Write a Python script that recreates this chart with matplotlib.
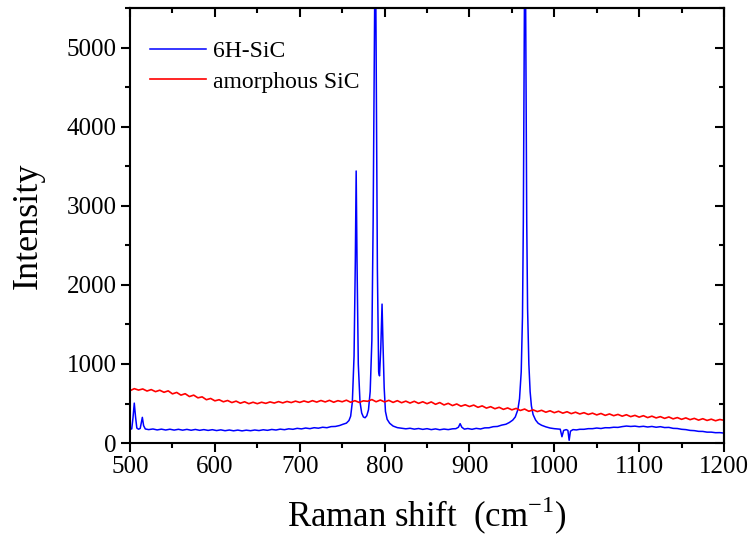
"""Raman spectra of 6H-SiC and amorphous SiC."""

import numpy as np
import matplotlib
matplotlib.use("Agg")
import matplotlib.pyplot as plt
from matplotlib.ticker import MultipleLocator

# 6H-SiC spectrum (Raman shift, intensity)
sic6h_shift = [
    500, 502, 503.5, 505, 506.5, 508, 510, 512, 513, 514.5, 516, 518,
    522, 527, 532, 537, 542, 547, 552, 557, 562, 567, 572, 577, 582, 587,
    592, 597, 602, 607, 612, 617, 622, 627, 632, 637, 642, 647, 652, 657,
    662, 667, 672, 677, 682, 687, 692, 697, 702, 707, 712, 717, 722, 727,
    732, 737, 742, 747, 751, 755, 758, 760, 762, 764, 765.5, 766.5, 767.5,
    769, 771, 773, 775, 777, 779, 781, 783, 785, 786.5, 788, 789, 790,
    791.5, 793, 794, 795.5, 797, 798, 799.5, 801, 803, 806, 810, 815, 820,
    825, 830, 835, 840, 845, 850, 855, 860, 865, 870, 875, 880, 884, 887,
    889, 891, 894, 898, 903, 908, 913, 918, 923, 928, 933, 938, 943, 947,
    951, 954, 957, 959, 961, 962.5, 963.5, 964.5, 965.5, 966.5, 967.5,
    968.5, 970, 971.5, 973, 975, 978, 981, 985, 990, 995, 1000, 1004,
    1007, 1009, 1011, 1014, 1016, 1017.5, 1019, 1022, 1026, 1030, 1035,
    1040, 1045, 1050, 1055, 1060, 1065, 1070, 1075, 1080, 1085, 1090,
    1095, 1100, 1105, 1110, 1115, 1120, 1125, 1130, 1135, 1140, 1145,
    1150, 1155, 1160, 1165, 1170, 1175, 1180, 1185, 1190, 1195, 1200,
]
sic6h_int = [
    172, 180, 320, 505, 330, 190, 175, 185, 240, 325, 220, 178,
    170, 178, 166, 176, 165, 175, 164, 174, 163, 173, 162, 172, 161, 170,
    160, 169, 158, 167, 156, 165, 155, 164, 154, 163, 156, 165, 158, 168,
    161, 172, 165, 176, 169, 180, 174, 186, 179, 190, 182, 194, 188, 200,
    194, 208, 210, 222, 238, 252, 285, 340, 520, 1100, 2300, 3440, 2300,
    1000, 520, 380, 330, 320, 345, 420, 650, 1300, 2800, 5000, 6800, 5000,
    2200, 900, 850, 1200, 1757, 1300, 700, 400, 300, 250, 215, 195, 188,
    180, 187, 176, 184, 173, 182, 170, 179, 168, 177, 170, 180, 182, 200,
    245, 200, 176, 184, 174, 186, 178, 192, 193, 207, 210, 227, 238, 260,
    290, 330, 420, 560, 900, 1600, 2800, 5000, 7000, 5000, 2800,
    1700, 1000, 650, 470, 360, 290, 250, 225, 205, 190, 182, 178,
    175, 80, 160, 170, 160, 35, 150, 170, 166, 174, 174,
    182, 182, 190, 184, 194, 193, 200, 198, 208, 215, 210,
    214, 206, 212, 203, 210, 200, 207, 196, 198, 186, 184,
    174, 170, 160, 157, 148, 147, 138, 138, 131, 132, 126,
]

# amorphous SiC spectrum, sampled every 5 cm-1 from 500 to 1200
asic_shift = np.arange(500, 1201, 5)
asic_int = [
    662, 688, 670, 684, 658, 676, 650, 668, 642, 660,
    622, 640, 606, 624, 588, 606, 572, 584, 548, 564,
    534, 548, 522, 538, 512, 530, 504, 522, 498, 516,
    498, 516, 502, 520, 506, 524, 508, 526, 512, 530,
    514, 532, 516, 536, 518, 538, 520, 540, 516, 536,
    522, 542, 516, 536, 514, 534, 528, 550, 522, 544,
    520, 540, 514, 536, 510, 530, 506, 528, 502, 522,
    498, 520, 490, 512, 482, 502, 474, 494, 466, 484,
    462, 480, 452, 470, 442, 460, 434, 452, 426, 444,
    420, 438, 412, 430, 402, 420, 398, 414, 390, 408,
    384, 402, 378, 396, 372, 390, 368, 384, 362, 378,
    356, 374, 350, 368, 346, 362, 340, 358, 334, 350,
    328, 346, 322, 340, 318, 334, 312, 330, 306, 322,
    300, 318, 296, 312, 290, 308, 286, 302, 282, 298,
    288,
]

plt.rcParams['font.family'] = ['Liberation Serif', 'DejaVu Serif']
plt.rcParams['mathtext.fontset'] = 'custom'
plt.rcParams['mathtext.rm'] = 'Liberation Serif'

fig = plt.figure(figsize=(7.56, 5.39), dpi=100)
ax = fig.add_axes([0.172, 0.178, 0.7857, 0.807])

ax.plot(sic6h_shift, sic6h_int, color='#0000ff', lw=1.1, label='6H-SiC')
ax.plot(asic_shift, asic_int, color='#ff0000', lw=1.2, label='amorphous SiC')

ax.set_xlim(500, 1200)
ax.set_ylim(0, 5500)
ax.xaxis.set_major_locator(MultipleLocator(100))
ax.xaxis.set_minor_locator(MultipleLocator(50))
ax.yaxis.set_major_locator(MultipleLocator(1000))
ax.yaxis.set_minor_locator(MultipleLocator(500))

for s in ax.spines.values():
    s.set_linewidth(1.5)
ax.tick_params(which='major', direction='out', length=6.5, width=1.5,
               labelsize=18, pad=3)
ax.tick_params(which='minor', direction='out', length=3.6, width=1.5)

# mirrored inward ticks on top and right
top = ax.secondary_xaxis('top')
top.xaxis.set_major_locator(MultipleLocator(100))
top.xaxis.set_minor_locator(MultipleLocator(50))
top.tick_params(which='major', direction='in', length=6.5, width=1.5, labeltop=False)
top.tick_params(which='minor', direction='in', length=3.6, width=1.5)
right = ax.secondary_yaxis('right')
right.yaxis.set_major_locator(MultipleLocator(1000))
right.yaxis.set_minor_locator(MultipleLocator(500))
right.tick_params(which='major', direction='in', length=6.5, width=1.5, labelright=False)
right.tick_params(which='minor', direction='in', length=3.6, width=1.5)
for s in list(top.spines.values()) + list(right.spines.values()):
    s.set_linewidth(1.5)

ax.set_xlabel('Raman shift  (cm$^{-1}$)', fontsize=25, labelpad=12)
ax.set_ylabel('Intensity', fontsize=26, labelpad=16)

ax.legend(loc='upper left', bbox_to_anchor=(0.034, 0.925), frameon=False,
          fontsize=17, handlelength=2.35, handletextpad=0.3,
          labelspacing=0.38, borderpad=0, borderaxespad=0)

fig.savefig('out.png', dpi=100)
